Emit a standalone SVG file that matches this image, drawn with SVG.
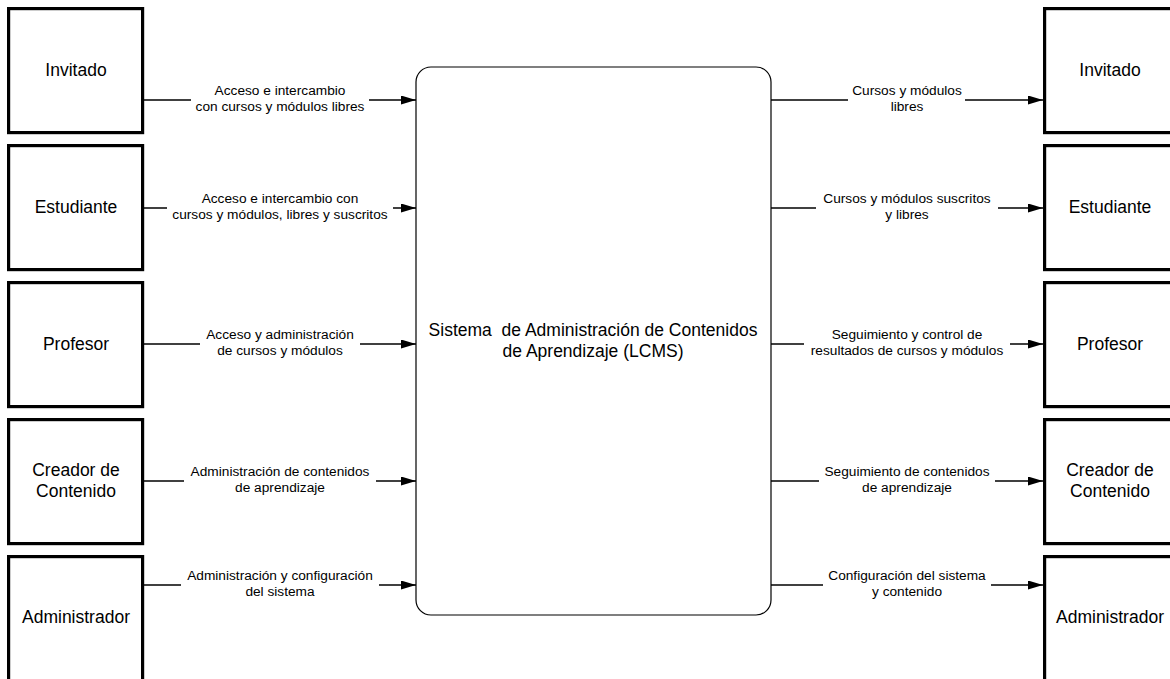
<svg xmlns="http://www.w3.org/2000/svg" width="1170" height="679" viewBox="0 0 1170 679">
<defs>
<style>
.actor{fill:#fff;stroke:#000;stroke-width:3.2}
.sys{fill:#fff;stroke:#000;stroke-width:1.2}
.big{font-family:"Liberation Sans",Arial,sans-serif;font-size:17.5px;fill:#000;text-anchor:middle}
.lbl{font-family:"Liberation Sans",Arial,sans-serif;font-size:13.7px;fill:#000;text-anchor:middle}
.edge{stroke:#000;stroke-width:1.3;fill:none}
.bg{fill:#fff}
</style>
<marker id="arr" markerWidth="16" markerHeight="10" refX="15" refY="4.5" orient="auto" markerUnits="userSpaceOnUse">
<path d="M0,0 L15,4.5 L0,9 z" fill="#000"/>
</marker>
</defs>
<rect width="1170" height="679" fill="#fff"/>

<g id="connectors">
<g id="e1"><line class="edge" x1="144" y1="100" x2="416" y2="100" marker-end="url(#arr)"/><rect class="bg" x="191" y="84" width="178" height="31"/><text class="lbl" x="280" y="95">Acceso e intercambio</text><text class="lbl" x="280" y="111">con cursos y módulos libres</text></g>
<g id="e2"><line class="edge" x1="144" y1="208" x2="416" y2="208" marker-end="url(#arr)"/><rect class="bg" x="167" y="192" width="226" height="31"/><text class="lbl" x="280" y="203">Acceso e intercambio con</text><text class="lbl" x="280" y="219">cursos y módulos, libres y suscritos</text></g>
<g id="e3"><line class="edge" x1="144" y1="344" x2="416" y2="344" marker-end="url(#arr)"/><rect class="bg" x="200" y="328" width="160" height="31"/><text class="lbl" x="280" y="339">Acceso y administración</text><text class="lbl" x="280" y="355">de cursos y módulos</text></g>
<g id="e4"><line class="edge" x1="144" y1="481" x2="416" y2="481" marker-end="url(#arr)"/><rect class="bg" x="184" y="465" width="192" height="31"/><text class="lbl" x="280" y="476">Administración de contenidos</text><text class="lbl" x="280" y="492">de aprendizaje</text></g>
<g id="e5"><line class="edge" x1="144" y1="585" x2="416" y2="585" marker-end="url(#arr)"/><rect class="bg" x="181" y="569" width="198" height="31"/><text class="lbl" x="280" y="580">Administración y configuración</text><text class="lbl" x="280" y="596">del sistema</text></g>

<g id="e6"><line class="edge" x1="771" y1="100" x2="1043" y2="100" marker-end="url(#arr)"/><rect class="bg" x="848" y="84" width="117" height="31"/><text class="lbl" x="907" y="95">Cursos y módulos</text><text class="lbl" x="907" y="111">libres</text></g>
<g id="e7"><line class="edge" x1="771" y1="208" x2="1043" y2="208" marker-end="url(#arr)"/><rect class="bg" x="816" y="192" width="182" height="31"/><text class="lbl" x="907" y="203">Cursos y módulos suscritos</text><text class="lbl" x="907" y="219">y libres</text></g>
<g id="e8"><line class="edge" x1="771" y1="344" x2="1043" y2="344" marker-end="url(#arr)"/><rect class="bg" x="804" y="328" width="206" height="31"/><text class="lbl" x="907" y="339">Seguimiento y control de</text><text class="lbl" x="907" y="355">resultados de cursos y módulos</text></g>
<g id="e9"><line class="edge" x1="771" y1="481" x2="1043" y2="481" marker-end="url(#arr)"/><rect class="bg" x="819" y="465" width="176" height="31"/><text class="lbl" x="907" y="476">Seguimiento de contenidos</text><text class="lbl" x="907" y="492">de aprendizaje</text></g>
<g id="e10"><line class="edge" x1="771" y1="585" x2="1043" y2="585" marker-end="url(#arr)"/><rect class="bg" x="823" y="569" width="168" height="31"/><text class="lbl" x="907" y="580">Configuración del sistema</text><text class="lbl" x="907" y="596">y contenido</text></g>
</g>

<g id="sistema"><rect class="sys" x="416" y="67" width="355" height="548" rx="15" ry="15"/><text class="big" x="593" y="336" xml:space="preserve" style="white-space:pre">Sistema  de Administración de Contenidos</text><text class="big" x="593" y="357">de Aprendizaje (LCMS)</text></g>

<g id="invitado-l"><rect class="actor" x="8.6" y="8.6" width="134" height="124"/><text class="big" x="76" y="76">Invitado</text></g>
<g id="estudiante-l"><rect class="actor" x="8.6" y="145.6" width="134" height="124"/><text class="big" x="76" y="213">Estudiante</text></g>
<g id="profesor-l"><rect class="actor" x="8.6" y="282.6" width="134" height="124"/><text class="big" x="76" y="350">Profesor</text></g>
<g id="creador-l"><rect class="actor" x="8.6" y="419.6" width="134" height="124"/><text class="big" x="76" y="476">Creador de</text><text class="big" x="76" y="497">Contenido</text></g>
<g id="administrador-l"><rect class="actor" x="8.6" y="556.6" width="134" height="124"/><text class="big" x="76" y="623">Administrador</text></g>

<g id="invitado-r"><rect class="actor" x="1044.6" y="8.6" width="134" height="124"/><text class="big" x="1110" y="76">Invitado</text></g>
<g id="estudiante-r"><rect class="actor" x="1044.6" y="145.6" width="134" height="124"/><text class="big" x="1110" y="213">Estudiante</text></g>
<g id="profesor-r"><rect class="actor" x="1044.6" y="282.6" width="134" height="124"/><text class="big" x="1110" y="350">Profesor</text></g>
<g id="creador-r"><rect class="actor" x="1044.6" y="419.6" width="134" height="124"/><text class="big" x="1110" y="476">Creador de</text><text class="big" x="1110" y="497">Contenido</text></g>
<g id="administrador-r"><rect class="actor" x="1044.6" y="556.6" width="134" height="124"/><text class="big" x="1110" y="623">Administrador</text></g>
</svg>
